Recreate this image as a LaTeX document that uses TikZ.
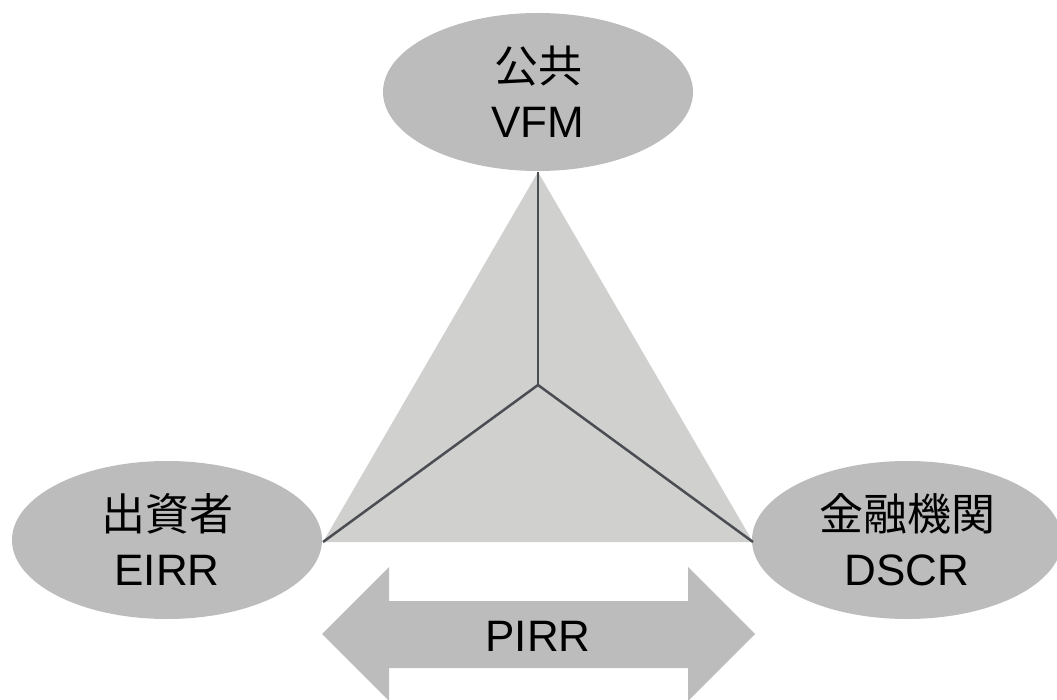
\documentclass[tikz,border=0pt]{standalone}
\usepackage{fontspec}
\setmainfont{Liberation Sans}
\newfontfamily\cjk{Noto Sans CJK JP}
\usetikzlibrary{shapes.geometric}
\definecolor{bubble}{HTML}{BBBCBB}
\definecolor{wedge}{HTML}{D0D0CF}
\definecolor{spoke}{HTML}{4A4D52}
\begin{document}
\begin{tikzpicture}[x=1pt,y=-1pt,
  party/.style={ellipse,fill=bubble,minimum width=310pt,minimum height=158pt,inner sep=0pt,
    align=center,font=\fontsize{44}{55}\selectfont},
  spokeline/.style={draw=spoke,line width=2.5pt}]
\useasboundingbox (0,0) rectangle (1057,700);
% central triangle
\coordinate (apex) at (538,172);
\coordinate (lv) at (323,542);
\coordinate (rv) at (753,542);
\coordinate (hub) at (538,385);
\fill[wedge] (apex) -- (lv) -- (rv) -- cycle;
% the three parties
\node[party] (pub) at (538,92) {{\cjk 公共}\\VFM};
\node[party] (inv) at (167,540) {{\cjk 出資者}\\EIRR};
\node[party] (bank) at (907,540) {{\cjk 金融機関}\\DSCR};
% spokes from the hub
\draw[spokeline] (hub) -- (apex);
\draw[spokeline] (hub) -- (lv);
\draw[spokeline] (hub) -- (rv);
% double-headed arrow
\fill[bubble] (322,634) -- (389,567) -- (389,601) -- (688,601) -- (688,567) -- (755,634)
  -- (688,701) -- (688,668) -- (389,668) -- (389,701) -- cycle;
\node[font=\fontsize{44}{55}\selectfont] (pirr) at (538,636) {PIRR};
\end{tikzpicture}
\end{document}
